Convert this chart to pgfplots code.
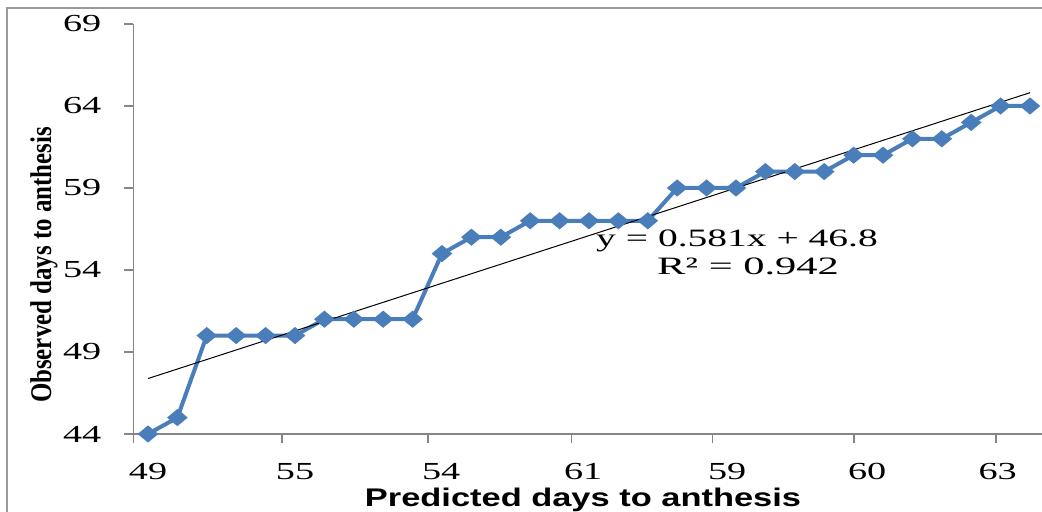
\documentclass[border=0pt]{standalone}
\usepackage{fontspec}
\setmainfont{Liberation Serif}
\newfontfamily\labelsans{Liberation Sans}
\usepackage{pgfplots}
\pgfplotsset{compat=1.18}
\usepackage{graphicx}
\definecolor{series}{HTML}{4A7EBB}
\definecolor{axisgray}{HTML}{868686}
\definecolor{framegray}{HTML}{9A9A9A}
\newcommand\sx[1]{\scalebox{1.56}[1]{#1}}
\begin{document}
\begin{tikzpicture}
\path[use as bounding box] (0,0) rectangle (521pt,256pt);
\draw[framegray, line width=1pt] (3.5pt,-5pt) -- (3.5pt,252pt) -- (530pt,252pt);
\begin{axis}[
  at={(66.65pt,39pt)}, anchor=south west,
  scale only axis, width=455.7pt, height=205pt,
  xmin=-0.5, xmax=30.5, ymin=44, ymax=69,
  axis x line*=bottom, axis y line*=left,
  axis line style={-, axisgray, line width=0.75pt},
  tick style={axisgray, line width=0.75pt},
  tick align=outside, major tick length=4.5pt,
  xtick={-0.5,4.55,9.52,14.41,19.2,24.01,28.84},
  xticklabels={},
  extra x ticks={0,5,9.97,14.8,19.7,24.46,28.9},
  extra x tick labels={\sx{49},\sx{55},\sx{54},\sx{61},\sx{59},\sx{60},\sx{63}},
  extra x tick style={major tick length=0pt},
  ytick={44,49,54,59,64,69},
  yticklabels={\sx{44},\sx{49},\sx{54},\sx{59},\sx{64},\sx{69}},
  ticklabel style={font=\fontsize{12.25}{14}\selectfont},
  xticklabel style={yshift=-11pt},
  yticklabel style={xshift=-8pt},
  clip=false,
]
\addplot[series, line width=2pt, mark=diamond*, mark size=3pt, mark options={xscale=1.6, solid, fill=series}] table {
x y
0 44
1 45
2 50
3 50
4 50
5 50
6 51
7 51
8 51
9 51
10 55
11 56
12 56
13 57
14 57
15 57
16 57
17 57
18 59
19 59
20 59
21 60
22 60
23 60
24 61
25 61
26 62
27 62
28 63
29 64
30 64
};
\addplot[black, line width=0.5pt] coordinates {(0,47.381) (30,64.811)};
\end{axis}
\node[anchor=base, font=\fontsize{12.5}{15}\selectfont, inner sep=0pt] at (368.5pt,132.5pt) {\scalebox{1.58}[1]{y = 0.581x + 46.8}};
\node[anchor=base, font=\fontsize{12.5}{15}\selectfont, inner sep=0pt] at (374pt,118.5pt) {\scalebox{1.7}[1]{R² = 0.942}};
\node[anchor=base, font=\labelsans\bfseries\fontsize{12.75}{15}\selectfont, inner sep=0pt] at (291.5pt,2.5pt) {\scalebox{1.35}[1]{Predicted days to anthesis}};
\node[anchor=base, rotate=90, font=\bfseries\fontsize{15}{17}\selectfont, inner sep=0pt] at (25.5pt,123.5pt) {\scalebox{0.83}[1]{Observed days to anthesis}};
\end{tikzpicture}
\end{document}
